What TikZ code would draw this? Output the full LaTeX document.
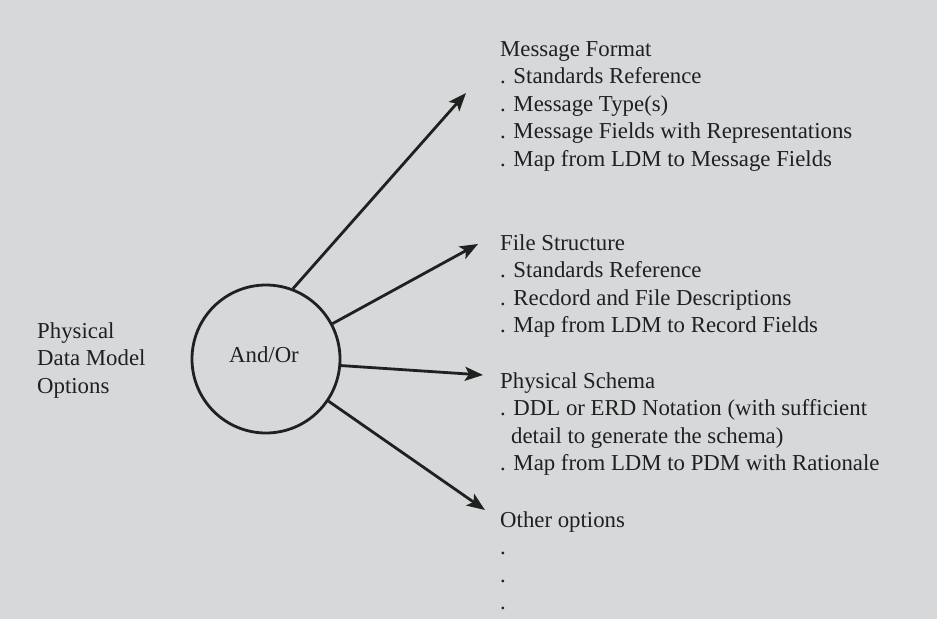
\documentclass[tikz,border=0pt]{standalone}
\usepackage{fontspec}
\setmainfont{Liberation Serif}
\usetikzlibrary{arrows.meta}
\definecolor{paper}{RGB}{214,216,218}
\definecolor{ink}{RGB}{30,33,31}
\begin{document}
\begin{tikzpicture}[x=1pt,y=-1pt,
  txt/.style={anchor=base west, align=left, inner sep=0pt,
    font=\fontsize{22.8}{27.5}\selectfont, text=ink},
  conn/.style={draw=ink, line width=2.8pt,
    -{Stealth[length=18pt,width=14pt,inset=4pt]}}]
\fill[paper] (0,0) rectangle (937,619);
\useasboundingbox (0,0) rectangle (937,619);
% central circle
\node[circle, draw=ink, line width=2.8pt, minimum size=148pt, inner sep=0pt] (c) at (266,359) {};
\node[txt, anchor=base] (ao) at (264,362) {And/Or};
% left label (anchor = baseline of last line)
\node[txt] (pdm) at (37,393) {Physical\\Data Model\\Options};
% right blocks (anchor = baseline of last line)
\node[txt] (mf) at (500,166) {Message Format\\. Standards Reference\\. Message Type(s)\\. Message Fields with Representations\\. Map from LDM to Message Fields};
\node[txt] (fs) at (500,332.5) {File Structure\\. Standards Reference\\. Recdord and File Descriptions\\. Map from LDM to Record Fields};
\node[txt] (ps) at (500,470.5) {Physical Schema\\. DDL or ERD Notation (with sufficient\\\hspace*{11pt}detail to generate the schema)\\. Map from LDM to PDM with Rationale};
\node[txt] (oo) at (500,609.5) {Other options\\.\\.\\.};
% arrow tips
\coordinate (t1) at (466,93);
\coordinate (t2) at (478,244);
\coordinate (t3) at (483,375);
\coordinate (t4) at (485,510);
\draw[conn] (c.69) -- (t1);
\draw[conn] (c.28) -- (t2);
\draw[conn] (c.-5) -- (t3);
\draw[conn] (c.-34) -- (t4);
\end{tikzpicture}
\end{document}
